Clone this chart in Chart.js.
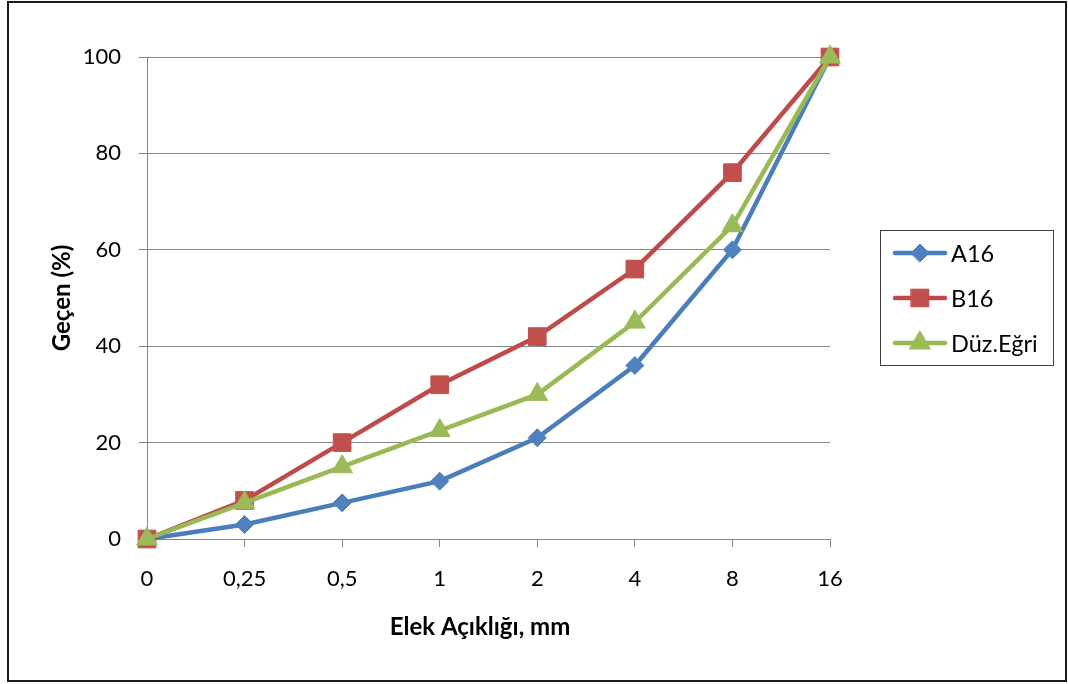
<!DOCTYPE html>
<html>
<head>
<meta charset="utf-8">
<title>Elek Analizi</title>
<script src="https://cdn.jsdelivr.net/npm/chart.js@4.4.1/dist/chart.umd.min.js"></script>
<style>
  html, body { margin: 0; padding: 0; background: #ffffff; }
  #wrap { width: 1068px; height: 684px; position: relative; }
  canvas { display: block; }
</style>
</head>
<body>
<div id="wrap"><canvas id="grading" width="1068" height="684"></canvas></div>
<script>
// Sieve openings (mm) and percentage passing for each mix
const sieveSizes = ['0', '0,25', '0,5', '1', '2', '4', '8', '16'];
const passA16 = [0, 3, 7.5, 12, 21, 36, 60, 100];
const passB16 = [0, 8, 20, 32, 42, 56, 76, 100];
const passStraight = [0, 7.5, 15, 22.5, 30, 45, 65, 100];
const seriesNames = ['A16', 'B16', 'Düz.Eğri'];
const yMin = 0, yMax = 100, yStep = 20;
const xTitle = 'Elek Açıklığı, mm';
const yTitle = 'Geçen (%)';

const FONT = 'Lato, "Open Sans", sans-serif';
const GRID = '#868686';

// Excel-style legend: line segment with the marker in the middle
const boxLegend = {
  id: 'boxLegend',
  afterDraw(chart) {
    const ctx = chart.ctx;
    const x0 = 880.5, y0 = 230.5, w = 173, h = 135;
    ctx.save();
    ctx.strokeStyle = '#404040';
    ctx.lineWidth = 1;
    ctx.strokeRect(x0, y0, w, h);
    const rows = [253, 298, 343];
    chart.data.datasets.forEach((ds, i) => {
      const y = rows[i];
      ctx.strokeStyle = ds.borderColor;
      ctx.lineWidth = ds.borderWidth;
      ctx.lineCap = 'round';
      ctx.beginPath();
      ctx.moveTo(895, y);
      ctx.lineTo(945, y);
      ctx.stroke();
      ctx.fillStyle = ds.pointBackgroundColor;
      ctx.strokeStyle = ds.pointBorderColor;
      ctx.lineWidth = 1;
      Chart.helpers.drawPoint(ctx, {
        pointStyle: ds.pointStyle,
        radius: ds.pointRadius,
        rotation: 0,
        borderWidth: 1
      }, 920, y);
      ctx.fillStyle = '#000000';
      ctx.font = '23.5px ' + FONT;
      ctx.textBaseline = 'middle';
      ctx.textAlign = 'left';
      ctx.fillText(ds.label, 951, y + 1);
    });
    ctx.restore();
  }
};

// Horizontal axis title, set slightly left of the plot centre
const xAxisTitle = {
  id: 'xAxisTitle',
  afterDraw(chart) {
    const ctx = chart.ctx;
    ctx.save();
    ctx.fillStyle = '#000000';
    ctx.font = 'bold 24px ' + FONT;
    ctx.textAlign = 'center';
    ctx.textBaseline = 'middle';
    ctx.fillText(xTitle, 480, 627);
    ctx.restore();
  }
};

// Thin frame around the whole chart
const outerFrame = {
  id: 'outerFrame',
  afterDraw(chart) {
    const ctx = chart.ctx;
    ctx.save();
    ctx.strokeStyle = '#1a1a1a';
    ctx.lineWidth = 2;
    ctx.strokeRect(8, 2, 1058, 679);
    ctx.restore();
  }
};

function series(label, data, line, fill, style, radius, order) {
  return {
    label, data, order,
    borderColor: line,
    backgroundColor: fill,
    borderWidth: 4.5,
    pointStyle: style,
    pointRadius: radius,
    pointHoverRadius: radius,
    pointBackgroundColor: fill,
    pointBorderColor: fill,
    pointBorderWidth: 1,
    tension: 0,
    clip: false
  };
}

new Chart(document.getElementById('grading'), {
  type: 'line',
  data: {
    labels: sieveSizes,
    datasets: [
      series(seriesNames[0], passA16, '#4A7EBB', '#4F81BD', 'rectRot', 9, 3),
      series(seriesNames[1], passB16, '#BE4B48', '#C0504D', 'rect', 12.5, 2),
      series(seriesNames[2], passStraight, '#98B954', '#9BBB59', 'triangle', 12, 1)
    ]
  },
  options: {
    responsive: false,
    animation: false,
    events: [],
    layout: { padding: { left: 0, top: 57, right: 238, bottom: 0 } },
    plugins: {
      legend: { display: false },
      tooltip: { enabled: false }
    },
    scales: {
      x: {
        type: 'category',
        offset: false,
        grid: {
          drawOnChartArea: false,
          drawTicks: true,
          tickLength: 8,
          color: GRID,
          lineWidth: 1
        },
        border: { display: true, color: GRID, width: 1 },
        ticks: {
          color: '#000000',
          font: { family: FONT, size: 22 },
          padding: 19,
          maxRotation: 0,
          autoSkip: false
        },
        title: { display: false },
        afterFit(scale) { scale.height = 145; }
      },
      y: {
        min: yMin,
        max: yMax,
        grid: {
          color: GRID,
          lineWidth: 1,
          drawTicks: true,
          tickLength: 8
        },
        border: { display: true, color: GRID, width: 1 },
        ticks: {
          stepSize: yStep,
          color: '#000000',
          font: { family: FONT, size: 22 },
          padding: 18
        },
        title: {
          display: true,
          text: yTitle,
          color: '#000000',
          font: { family: FONT, size: 24, weight: 'bold' },
          padding: { top: 48, bottom: 0 }
        },
        afterFit(scale) { scale.width = 147; }
      }
    }
  },
  plugins: [boxLegend, xAxisTitle, outerFrame]
});
</script>
</body>
</html>
